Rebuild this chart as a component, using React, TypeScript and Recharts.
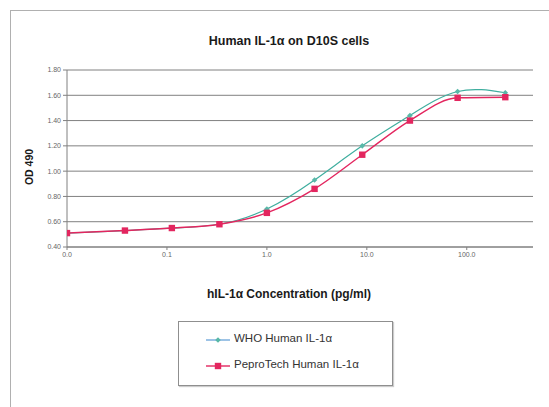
import React from 'react';
import { LineChart, Line, XAxis, YAxis, CartesianGrid } from 'recharts';

const concentrations = [0.01, 0.038, 0.112, 0.335, 1, 3, 9, 27, 81, 243];
const whoValues = [0.51, 0.53, 0.55, 0.58, 0.70, 0.93, 1.20, 1.44, 1.63, 1.62];
const peproValues = [0.51, 0.53, 0.55, 0.58, 0.67, 0.86, 1.13, 1.40, 1.58, 1.585];
const xTicks = [0.01, 0.1, 1, 10, 100];
const yTicks = [0.4, 0.6, 0.8, 1.0, 1.2, 1.4, 1.6, 1.8];

const WHO_COLOR = '#3fae9f';
const WHO_MARK = '#58b8a8';
const PEPRO_COLOR = '#e3265f';

const data = concentrations.map((c, i) => ({ conc: c, who: whoValues[i], pepro: peproValues[i] }));

const Diamond = (props: any) => {
  const { cx, cy, index } = props;
  if (cx == null || cy == null) return <g key={`w-${index}`} />;
  const s = 2.8;
  return (
    <path key={`w-${index}`} d={`M${cx},${cy - s}L${cx + s},${cy}L${cx},${cy + s}L${cx - s},${cy}Z`} fill={WHO_MARK} stroke="none" />
  );
};

const Square = (props: any) => {
  const { cx, cy, index } = props;
  if (cx == null || cy == null) return <g key={`p-${index}`} />;
  const s = 3.2;
  return <rect key={`p-${index}`} x={cx - s} y={cy - s} width={2 * s} height={2 * s} fill={PEPRO_COLOR} stroke="none" />;
};

const font = '"Liberation Sans", Arial, sans-serif';

export default function App() {
  return (
    <div style={{ position: 'absolute', left: 0, top: 0, width: 549, height: 407, background: '#fff', overflow: 'hidden', fontFamily: font }}>
      <div style={{ position: 'absolute', left: 10, top: 10, width: 560, height: 420, border: '1px solid #b0b0b0', boxSizing: 'border-box' }} />
      <LineChart
        width={549}
        height={407}
        data={data}
        margin={{ top: 70, right: 16, bottom: 0, left: 0 }}
        style={{ position: 'absolute', left: 0, top: 0 }}
      >
        <CartesianGrid vertical={false} stroke="#808080" strokeWidth={1} />
        <XAxis
          dataKey="conc"
          type="number"
          scale="log"
          domain={[0.01, 460]}
          ticks={xTicks}
          allowDataOverflow
          height={160}
          tickFormatter={(v: number) => v.toFixed(1)}
          tick={{ fontSize: 7, fill: '#666', fontFamily: font }}
          tickSize={3}
          axisLine={{ stroke: '#808080' }}
          tickLine={{ stroke: '#808080' }}
        />
        <YAxis
          type="number"
          domain={[0.4, 1.8]}
          ticks={yTicks}
          width={67}
          tickFormatter={(v: number) => v.toFixed(2)}
          tick={{ fontSize: 7, fill: '#666', fontFamily: font }}
          tickSize={4}
          axisLine={{ stroke: '#808080' }}
          tickLine={{ stroke: '#808080' }}
        />
        <Line
          type="natural"
          dataKey="who"
          stroke={WHO_COLOR}
          strokeWidth={1.2}
          dot={Diamond}
          activeDot={false}
          isAnimationActive={false}
        />
        <Line
          type="monotone"
          dataKey="pepro"
          stroke={PEPRO_COLOR}
          strokeWidth={1.4}
          dot={Square}
          activeDot={false}
          isAnimationActive={false}
        />
      </LineChart>
      <div style={{ position: 'absolute', left: 0, width: 578, top: 34, textAlign: 'center', fontWeight: 'bold', fontSize: 12.5, color: '#1a1a1a', whiteSpace: 'nowrap' }}>
        Human IL-1α on D10S cells
      </div>
      <div style={{ position: 'absolute', left: 0, width: 578, top: 287, textAlign: 'center', fontWeight: 'bold', fontSize: 12, color: '#1a1a1a', whiteSpace: 'nowrap' }}>
        hIL-1α Concentration (pg/ml)
      </div>
      <div style={{ position: 'absolute', left: 29, top: 167, width: 0, height: 0 }}>
        <div style={{ position: 'absolute', left: -30, top: -7, width: 60, textAlign: 'center', transform: 'rotate(-90deg)', fontWeight: 'bold', fontSize: 10.5, color: '#1a1a1a', whiteSpace: 'nowrap', lineHeight: '14px' }}>
          OD 490
        </div>
      </div>
      <div style={{ position: 'absolute', left: 178, top: 321, width: 215, height: 65, border: '1px solid #8f8f8f', boxSizing: 'border-box', boxShadow: '1px 1px 1px #ccc', background: '#fff' }}>
        <svg width={60} height={63} style={{ position: 'absolute', left: 0, top: 0 }}>
          <line x1={27} x2={51} y1={18} y2={18} stroke="#5b9bd5" strokeWidth={1.2} />
          <path d="M39,15.2L41.8,18L39,20.8L36.2,18Z" fill={WHO_MARK} />
          <line x1={27} x2={51} y1={44} y2={44} stroke={PEPRO_COLOR} strokeWidth={1.4} />
          <rect x={35.8} y={40.8} width={6.4} height={6.4} fill={PEPRO_COLOR} />
        </svg>
        <div style={{ position: 'absolute', left: 55, top: 10, fontSize: 11.5, color: '#333', whiteSpace: 'nowrap' }}>WHO Human IL-1α</div>
        <div style={{ position: 'absolute', left: 55, top: 36, fontSize: 11.5, color: '#333', whiteSpace: 'nowrap' }}>PeproTech Human IL-1α</div>
      </div>
    </div>
  );
}
